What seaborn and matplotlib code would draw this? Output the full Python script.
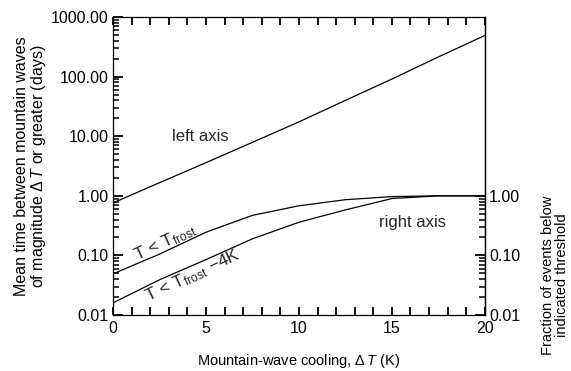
import numpy as np
import pandas as pd
import matplotlib
matplotlib.use('Agg')
import matplotlib.pyplot as plt
import matplotlib.ticker as mticker
import seaborn as sns

# values
cooling = [0, 2.5, 5, 7.5, 10, 12.5, 15, 17.5, 20]
mean_time = [0.76, 1.66, 3.6, 7.9, 17.4, 40, 91, 214, 490]         # left axis (days)
frac_frost = [0.049, 0.105, 0.245, 0.47, 0.68, 0.86, 0.97, 1.0, 1.0]  # right axis
frac_frost4 = [0.016, 0.039, 0.085, 0.19, 0.36, 0.58, 0.90, 1.0, 1.0]
x_ticks = [0, 5, 10, 15, 20]
left_ticks = [0.01, 0.1, 1, 10, 100, 1000]
right_ticks = [0.01, 0.1, 1]

sns.set_style('ticks')
plt.rcParams['font.family'] = ['Liberation Sans', 'DejaVu Sans']
plt.rcParams['mathtext.fontset'] = 'custom'
plt.rcParams['mathtext.rm'] = 'Liberation Sans'
plt.rcParams['mathtext.it'] = 'Liberation Sans:italic'

data = pd.DataFrame({'dT': cooling, 'left': mean_time,
                     'frost': frac_frost, 'frost4': frac_frost4})

fig = plt.figure(figsize=(5.71, 3.71), dpi=100)
ax = fig.add_axes([0.198, 0.151, 0.651, 0.803])
ax.set_axisbelow(False)

# left and right axes share the same log scale (0.01 - 1000), so one axes holds all curves
sns.lineplot(data=data, x='dT', y='left', ax=ax, color='black', lw=0.9)
sns.lineplot(data=data, x='dT', y='frost', ax=ax, color='black', lw=0.9)
sns.lineplot(data=data, x='dT', y='frost4', ax=ax, color='black', lw=0.9)
ax.set_yscale('log')
ax.set_xlim(0, 20)
ax.set_ylim(0.01, 1000)
ax.set_xticks(x_ticks)
ax.xaxis.set_minor_locator(mticker.MultipleLocator(1))
ax.set_yticks(left_ticks)
ax.yaxis.set_major_formatter(mticker.FormatStrFormatter('%.2f'))
ax.yaxis.set_minor_locator(mticker.LogLocator(subs=np.arange(2, 10), numticks=30))
ax.yaxis.set_minor_formatter(mticker.NullFormatter())
ax.tick_params(axis='x', which='both', direction='in', top=True, bottom=True,
               length=6, width=1.3, color='black', labelcolor='black',
               labelsize=11.5, pad=4)
ax.tick_params(axis='y', which='major', direction='in', left=True, right=False,
               length=7, width=1.3, color='black', labelcolor='black',
               labelsize=11.5, pad=3)
ax.tick_params(axis='y', which='minor', direction='in', left=True, right=False,
               length=4, width=1.1, color='black')

sec = ax.secondary_yaxis('right')
sec.set_yticks(right_ticks)
minor_r = [m * d for d in [0.01, 0.1] for m in range(2, 10)]
sec.yaxis.set_minor_locator(mticker.FixedLocator(minor_r))
sec.yaxis.set_major_formatter(mticker.FormatStrFormatter('%.2f'))
sec.yaxis.set_minor_formatter(mticker.NullFormatter())
sec.tick_params(axis='y', which='major', direction='in', length=7, width=1.3,
                color='black', labelcolor='black', labelsize=11.5, pad=3)
sec.tick_params(axis='y', which='minor', direction='in', length=4, width=1.1,
                color='black')
sec.spines['right'].set_linewidth(0.9)
sec.spines['right'].set_color('black')

for s in ax.spines.values():
    s.set_linewidth(0.9)
    s.set_color('black')
    s.set_visible(True)

ax.set_xlabel(r'Mountain-wave cooling, $\Delta\,T$ (K)', fontsize=10.5, labelpad=12,
              color='black')
ax.set_ylabel('Mean time between mountain waves\n' + r'of magnitude $\Delta\,T$ or greater (days)',
              fontsize=11.5, labelpad=2, linespacing=1.0, color='black')
fig.text(0.972, 0.259, 'Fraction of events below\nindicated threshold', rotation=90,
         fontsize=10.5, ha='center', va='center', linespacing=1.0, color='black')

ax.text(4.7, 10, 'left axis', fontsize=12, ha='center', va='center')
ax.text(16.1, 0.35, 'right axis', fontsize=12, ha='center', va='center')
ax.text(2.8, 0.165, r'T < T$_{\rm frost}$', fontsize=12.5, rotation=25,
        ha='center', va='center')
ax.text(4.3, 0.046, r'T < T$_{\rm frost}$ $-$4K', fontsize=12.5, rotation=25,
        ha='center', va='center')

fig.savefig('out.png', dpi=100)
